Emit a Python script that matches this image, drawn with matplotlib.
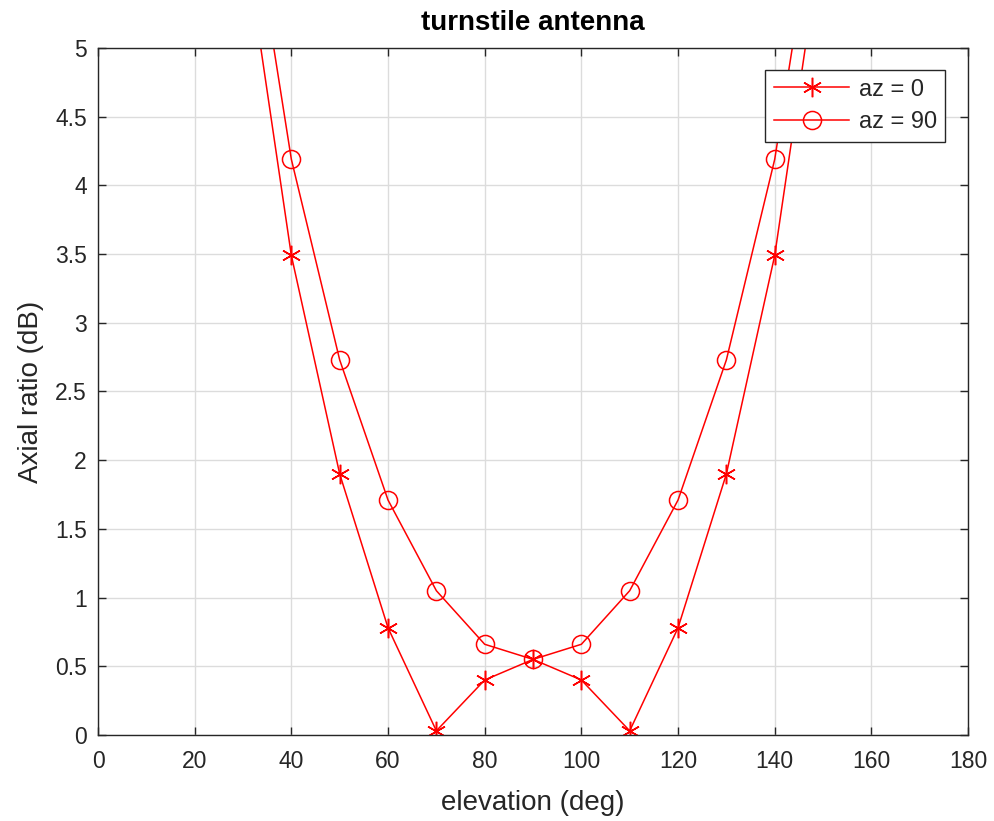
import numpy as np
import matplotlib
matplotlib.use('Agg')
import matplotlib.pyplot as plt

# values (elevation in deg, axial ratio in dB)
elevation = [30, 40, 50, 60, 70, 80, 90, 100, 110, 120, 130, 140, 150]
ar_az0 = [5.88, 3.49, 1.90, 0.78, 0.03, 0.40, 0.55, 0.40, 0.03, 0.78, 1.90, 3.49, 5.88]
ar_az90 = [6.42, 4.19, 2.73, 1.71, 1.05, 0.66, 0.55, 0.66, 1.05, 1.71, 2.73, 4.19, 6.42]

x_ticks = list(range(0, 181, 20))
y_ticks = [0, 0.5, 1, 1.5, 2, 2.5, 3, 3.5, 4, 4.5, 5]
y_tick_labels = ['0', '0.5', '1', '1.5', '2', '2.5', '3', '3.5', '4', '4.5', '5']

plt.rcParams['font.family'] = ['Liberation Sans', 'DejaVu Sans']

axis_col = '#262626'
asterisk = (6, 2, 0)

fig = plt.figure(figsize=(9.94, 8.21), dpi=100)
ax = fig.add_axes([0.0986, 0.1048, 0.8753, 0.8367])

ax.plot(elevation, ar_az0, color='red', lw=1.1, marker=asterisk,
        markersize=14, markeredgewidth=1.1, label='az = 0')
ax.plot(elevation, ar_az90, color='red', lw=1.1, marker='o',
        markersize=13, markerfacecolor='none', markeredgewidth=1.1, label='az = 90')

ax.set_xlim(0, 180)
ax.set_ylim(0, 5)
ax.set_xticks(x_ticks)
ax.set_yticks(y_ticks)
ax.set_yticklabels(y_tick_labels)
ax.grid(True, color='#dcdcdc', linewidth=1.0)
ax.set_axisbelow(True)

ax.tick_params(direction='in', length=6, width=1.0, colors=axis_col,
               labelsize=16.5, top=True, right=True)
ax.tick_params(axis='x', pad=11)
ax.tick_params(axis='y', pad=8)
for sp in ax.spines.values():
    sp.set_color(axis_col)
    sp.set_linewidth(1.0)

ax.set_xlabel('elevation (deg)', fontsize=20, color=axis_col, labelpad=12)
ax.set_ylabel('Axial ratio (dB)', fontsize=20, color=axis_col, labelpad=8)
ax.set_title('turnstile antenna', fontsize=20, fontweight='bold', color='black', pad=13)

leg = ax.legend(loc='upper right', bbox_to_anchor=(0.974, 0.968), borderaxespad=0,
                fontsize=17, fancybox=False, framealpha=1, edgecolor=axis_col,
                handlelength=3.2, borderpad=0.36, labelspacing=0.45, handletextpad=0.4)
leg.get_frame().set_linewidth(1.0)
for t in leg.get_texts():
    t.set_color(axis_col)

fig.savefig('out.png', dpi=100)
